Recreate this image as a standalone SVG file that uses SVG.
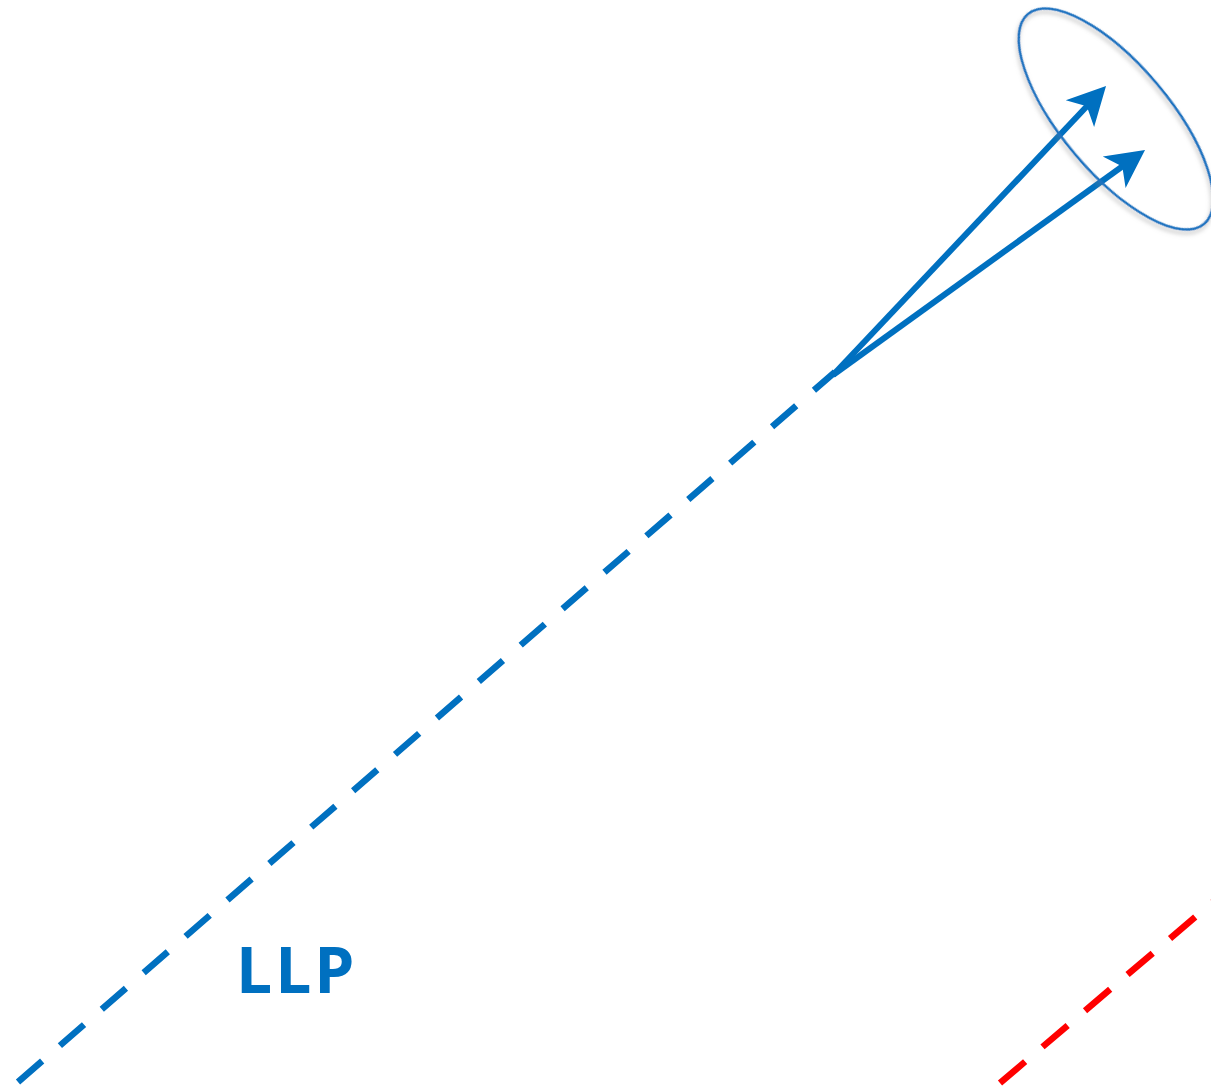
<svg xmlns="http://www.w3.org/2000/svg" width="1211" height="1089" viewBox="0 0 1211 1089">
<style>
.blue-dash{stroke:#0070C0;stroke-width:6.5;fill:none;stroke-dasharray:32 23.5}
.red-dash{stroke:#FF0000;stroke-width:6.5;fill:none;stroke-dasharray:33 22.8}
.arrow{stroke:#0070C0;stroke-width:6;fill:none;marker-end:url(#stealth)}
.label{font-family:"Open Sans","Liberation Sans",sans-serif;font-weight:bold;font-size:64px;letter-spacing:3px;fill:#0070C0}
</style>
<defs>
<marker id="stealth" markerUnits="userSpaceOnUse" viewBox="-20 -21 42 42" markerWidth="42" markerHeight="42" refX="0" refY="0" orient="auto" overflow="visible">
<path d="M20,0 L-18,-19.5 L-8,0 L-18,19.5 Z" fill="#0070C0"/>
</marker>
<filter id="shadow" x="-20%" y="-20%" width="140%" height="140%">
<feDropShadow dx="2" dy="3" stdDeviation="2" flood-color="#808080" flood-opacity="0.5"/>
</filter>
</defs>
<g id="connectors">
<line class="blue-dash" x1="18" y1="1082" x2="835" y2="372"/>
<line class="red-dash" x1="1000" y1="1083" x2="1240" y2="879"/>
<line class="arrow" x1="833" y1="375" x2="1092.3" y2="100.5"/>
<line class="arrow" x1="833" y1="375" x2="1128.8" y2="161.7"/>
</g>
<g id="ellipse-node">
<ellipse cx="1116" cy="119" rx="137" ry="54" transform="rotate(50 1116 119)" fill="none" stroke="#1F72BF" stroke-width="2.5" filter="url(#shadow)"/>
</g>
<g id="llp-label">
<text class="label" x="236" y="993">LLP</text>
</g>
</svg>
